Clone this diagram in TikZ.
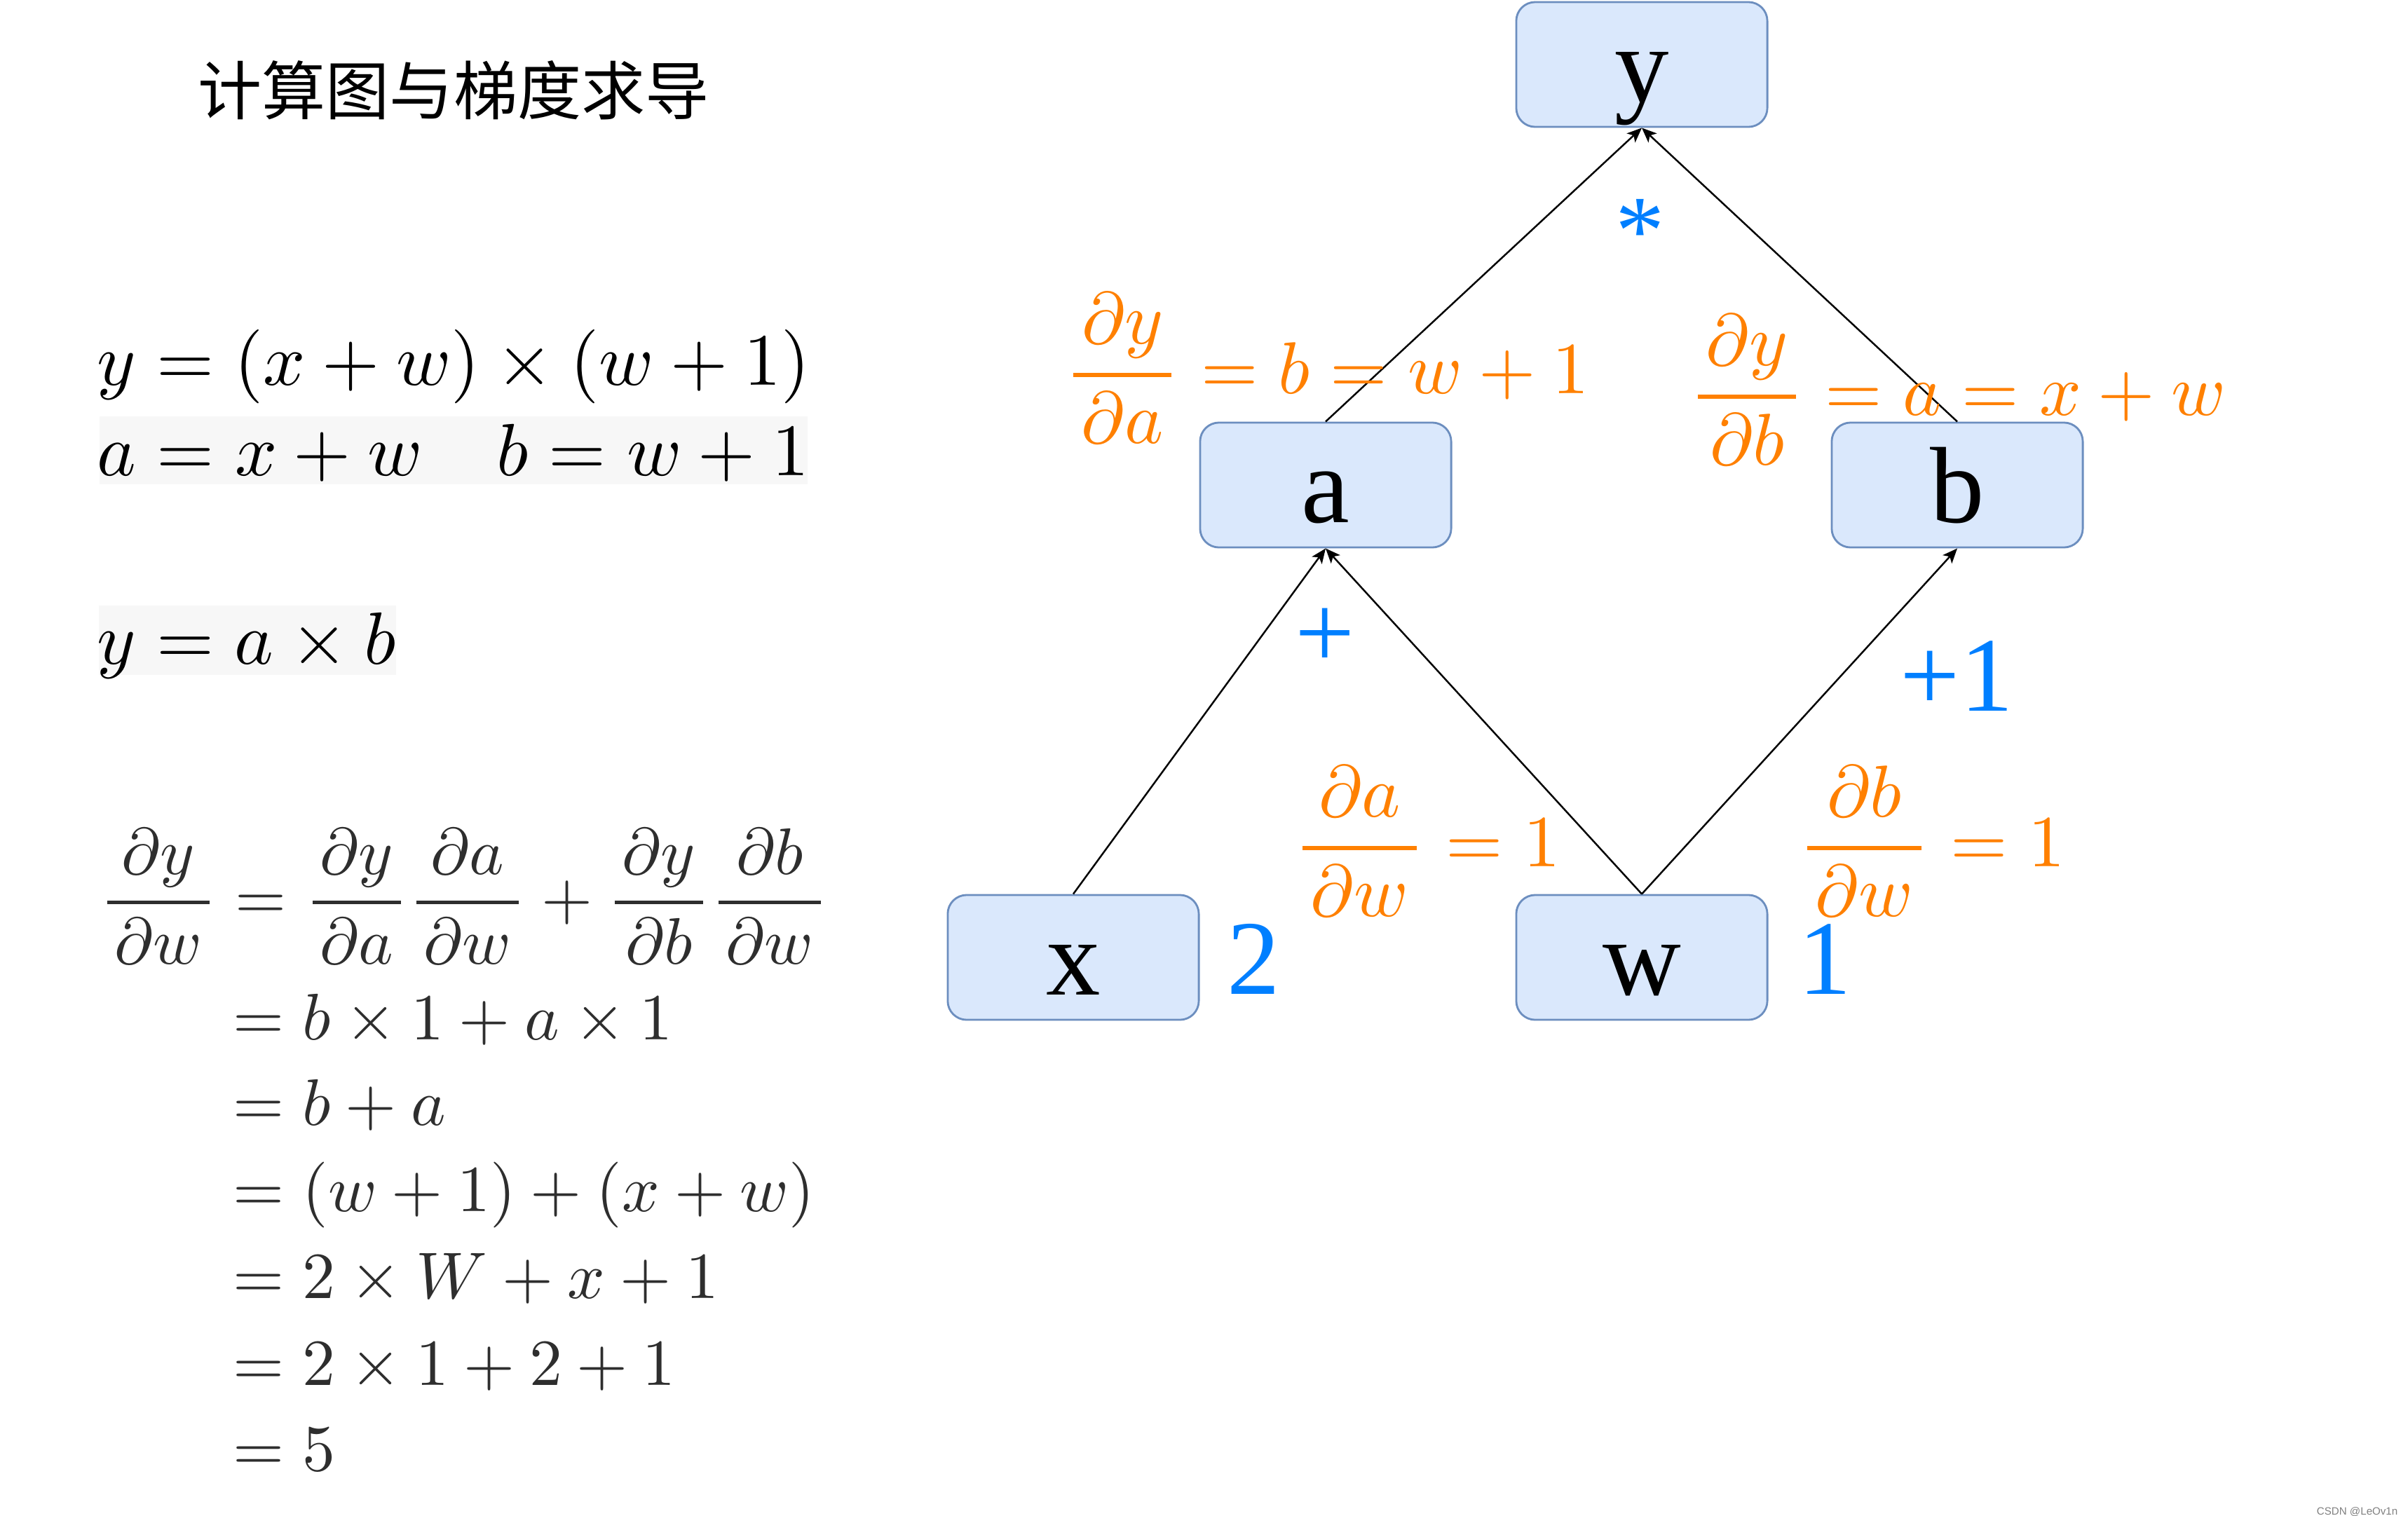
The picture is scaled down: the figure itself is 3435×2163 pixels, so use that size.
\RequirePackage{fix-cm}
\documentclass[tikz,border=0pt]{standalone}
\usepackage{graphicx}
\usepackage{amsmath}
\usepackage{fontspec}
\newfontfamily\lserif{Liberation Serif}
\newfontfamily\cjkfont{Noto Sans CJK SC}
\newfontfamily\lsans{Liberation Sans}
\usetikzlibrary{arrows.meta}
\definecolor{boxfill}{HTML}{DAE8FC}
\definecolor{boxline}{HTML}{6C8EBF}
\definecolor{lblorange}{HTML}{FF8000}
\definecolor{lblblue}{HTML}{007FFF}
\definecolor{derivgray}{HTML}{2E2E2E}
\definecolor{eqbg}{HTML}{F7F7F7}
\newcommand{\pf}[2]{\genfrac{}{}{0.55pt}{}{\mkern2mu #1\mkern2mu}{\mkern2mu #2\mkern2mu}}
\newcommand{\sclmath}[2]{\scalebox{#1}{$#2$}}
\begin{document}
\begin{tikzpicture}[x=0.01cm,y=-0.01cm,
  vbox/.style={draw=boxline, fill=boxfill, line width=0.8pt, rounded corners=0.27cm,
    minimum width=3.58cm, minimum height=1.78cm, inner sep=0pt,
    text height=1.06cm, text depth=0pt, font=\lserif\fontsize{44}{50}\selectfont},
  conn/.style={line width=0.7pt, -{Stealth[length=6pt,width=5pt,inset=1.5pt]}},
  eqtxt/.style={inner sep=0pt, anchor=base west, font=\fontsize{10}{12}\selectfont},
  derivtxt/.style={inner sep=0pt, anchor=base west, text=derivgray, font=\fontsize{10}{12}\selectfont},
  orangelbl/.style={inner sep=0pt, anchor=base west, text=lblorange, font=\fontsize{10}{12}\selectfont},
  bluelbl/.style={inner sep=0pt, text=lblblue, font=\lserif\fontsize{43}{50}\selectfont}
]
\useasboundingbox (0,0) rectangle (3435,2163);
\fill[white] (0,0) rectangle (3435,2163);

% title
\node[inner sep=0pt, anchor=base west, font=\cjkfont\fontsize{25.9}{30}\selectfont] (title) at (282,163) {计算图与梯度求导};

% left equations
\node[eqtxt] (eq1) at (138,549) {\sclmath{3}{y = (x + w) \times (w + 1)}};
\fill[eqbg] (142,594) rectangle (1152,691);
\node[eqtxt] (eq2) at (138,678) {\sclmath{3}{a = x + w \quad b = w + 1}};
\fill[eqbg] (141,864) rectangle (565,963);
\node[eqtxt] (eq3) at (138,947) {\sclmath{3}{y = a \times b}};

% derivation
\node[derivtxt] (d1) at (141,1311) {\sclmath{2.67}{\displaystyle \pf{\partial y}{\partial w} = \pf{\partial y}{\partial a}\pf{\partial a}{\partial w} + \pf{\partial y}{\partial b}\pf{\partial b}{\partial w}}};
\node[derivtxt] (d2) at (332,1483) {\sclmath{2.67}{= b \times 1 + a \times 1}};
\node[derivtxt] (d3) at (332,1605) {\sclmath{2.67}{= b + a}};
\node[derivtxt] (d4) at (332,1728) {\sclmath{2.67}{= (w + 1) + (x + w)}};
\node[derivtxt] (d5) at (332,1852) {\sclmath{2.67}{= 2 \times W + x + 1}};
\node[derivtxt] (d6) at (332,1976) {\sclmath{2.67}{= 2 \times 1 + 2 + 1}};
\node[derivtxt] (d7) at (332,2098) {\sclmath{2.67}{= 5}};

% graph nodes
\node[vbox] (y) at (2342,92) {y};
\node[vbox] (a) at (1891,692) {a};
\node[vbox] (b) at (2792,692) {b};
\node[vbox] (x) at (1531,1366) {x};
\node[vbox] (w) at (2342,1366) {w};

% connectors
\draw[conn] (x.north) -- (a.south);
\draw[conn] (w.north) -- (a.south);
\draw[conn] (w.north) -- (b.south);
\draw[conn] (a.north) -- (y.south);
\draw[conn] (b.north) -- (y.south);

% orange gradient labels
\node[orangelbl] (lya) at (1518,561) {\sclmath{2.98}{\displaystyle \pf{\partial y}{\partial a} = b = w + 1}};
\node[orangelbl] (lyb) at (2409,592) {\sclmath{2.98}{\displaystyle \pf{\partial y}{\partial b} = a = x + w}};
\node[orangelbl] (law) at (1845,1236) {\sclmath{2.98}{\displaystyle \pf{\partial a}{\partial w} = 1}};
\node[orangelbl] (lbw) at (2565,1236) {\sclmath{2.98}{\displaystyle \pf{\partial b}{\partial w} = 1}};

% blue operation / value labels
\node[bluelbl, anchor=base, font=\lserif\fontsize{40}{46}\selectfont] (opmul) at (2340,376) {*};
\node[bluelbl, anchor=base] (opadd) at (1890,953) {+};
\node[bluelbl, anchor=base west] (opinc) at (2710,1014) {+1};
\node[bluelbl, anchor=base west] (valx) at (1750,1418) {2};
\node[bluelbl, anchor=base west] (valw) at (2565,1418) {1};

% watermark
\node[inner sep=0pt, anchor=base east, text=gray, font=\lsans\fontsize{4.3}{5}\selectfont] (wm) at (3421,2161) {CSDN @LeOv1n};
\end{tikzpicture}
\end{document}
